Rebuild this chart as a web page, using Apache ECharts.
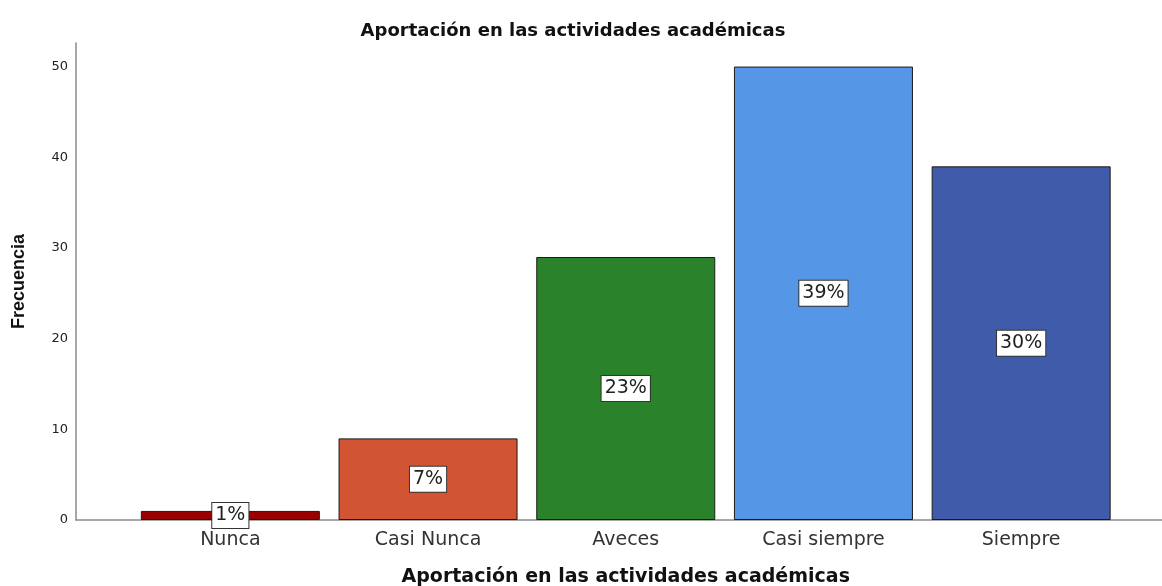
<!DOCTYPE html>
<html>
<head>
<meta charset="utf-8">
<script src="https://cdn.jsdelivr.net/npm/echarts@6/dist/echarts.min.js"></script>
<style>
    html, body {margin: 0; padding: 0; background: #fff;}
    #chart {width: 1162px; height: 586px;}
</style>
</head>
<body>
<div id="chart"></div>
<script>
// values
var categories = ['Nunca', 'Casi Nunca', 'Aveces', 'Casi siempre', 'Siempre'];
var frecuencias = [1, 9, 29, 50, 39];
var porcentajes = ['1%', '7%', '23%', '39%', '30%'];
var barColors = ['#990000', '#d15433', '#2a832a', '#5596e6', '#3f5ba9'];

var yMax = 52.6;
var txtFont = 'DejaVu Sans';

var chart = echarts.init(document.getElementById('chart'));

var seriesData = frecuencias.map(function (v, i) {
    return {value: v, itemStyle: {color: barColors[i]}};
});

var option = {
    backgroundColor: '#fff',
    animation: false,
    title: {
        text: 'Aportación en las actividades académicas',
        left: 568,
        top: 17,
        textAlign: 'center',
        textStyle: {fontFamily: txtFont, fontWeight: 'bold', fontSize: 18, color: '#111'}
    },
    grid: [
        // frame with the axis lines
        {left: 76, right: 0, top: 43, bottom: 66, outerBoundsMode: 'none'},
        // bars
        {left: 131.5, right: 42, top: 43, bottom: 66, outerBoundsMode: 'none'}
    ],
    xAxis: [
        {
            gridIndex: 0, type: 'value', min: 0, max: 1,
            axisLine: {show: true, lineStyle: {color: '#8a8a8a', width: 1.5}},
            axisTick: {show: false}, axisLabel: {show: false}, splitLine: {show: false}
        },
        {
            gridIndex: 1, type: 'category', data: categories,
            axisLine: {show: false}, axisTick: {show: false}, splitLine: {show: false},
            axisLabel: {fontFamily: txtFont, fontSize: 19, color: '#333', margin: 11},
            name: 'Aportación en las actividades académicas',
            nameLocation: 'middle',
            nameGap: 48,
            nameTextStyle: {fontFamily: txtFont, fontWeight: 'bold', fontSize: 19, color: '#111'}
        }
    ],
    yAxis: [
        {
            gridIndex: 0, type: 'value', min: 0, max: yMax, interval: 10,
            axisLine: {show: true, lineStyle: {color: '#8a8a8a', width: 1.5}},
            axisTick: {show: false}, splitLine: {show: false},
            axisLabel: {fontFamily: txtFont, fontSize: 13, color: '#222', margin: 8, showMaxLabel: false},
            name: 'Frecuencia',
            nameLocation: 'middle',
            nameGap: 48,
            nameTextStyle: {fontFamily: 'Liberation Sans', fontWeight: 'bold', fontSize: 18, color: '#111'}
        },
        {
            gridIndex: 1, type: 'value', min: 0, max: yMax, interval: 10,
            axisLine: {show: false}, axisTick: {show: false},
            axisLabel: {show: false}, splitLine: {show: false}
        }
    ],
    series: [{
        type: 'bar',
        xAxisIndex: 1,
        yAxisIndex: 1,
        data: seriesData,
        barWidth: 179,
        itemStyle: {borderColor: '#1a1a1a', borderWidth: 1},
        label: {
            show: true,
            position: 'inside',
            formatter: function (p) { return porcentajes[p.dataIndex]; },
            fontFamily: txtFont,
            fontSize: 19,
            color: '#222',
            backgroundColor: '#fff',
            borderColor: '#333',
            borderWidth: 1,
            padding: [4, 3, 2, 3]
        }
    }]
};

chart.setOption(option);
</script>
</body>
</html>
